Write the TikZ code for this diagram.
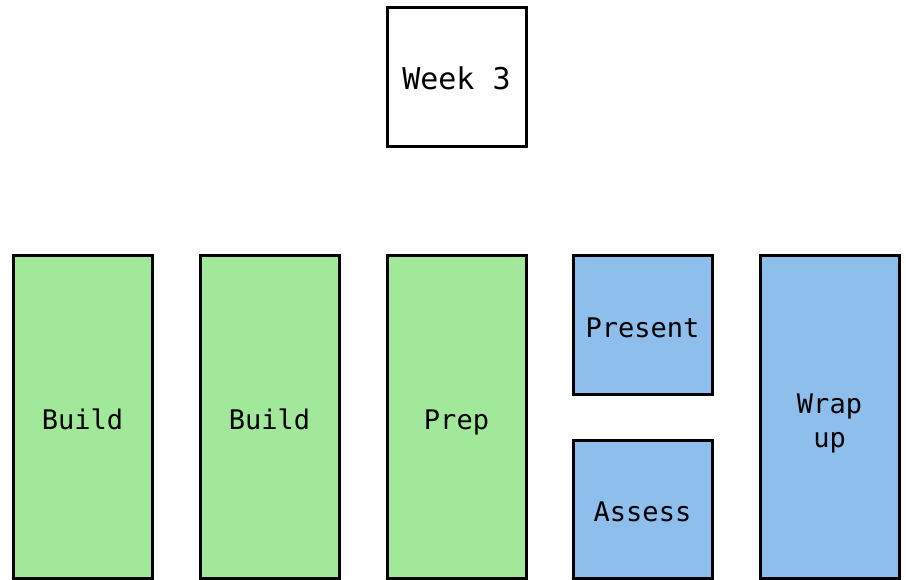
\documentclass[tikz,border=0pt]{standalone}
\usepackage{fontspec}
\setmonofont{DejaVu Sans Mono}
\definecolor{boxgreen}{RGB}{162,232,154}
\definecolor{boxblue}{RGB}{142,190,236}
\begin{document}
\begin{tikzpicture}[x=1pt,y=-1pt,
  box/.style={draw=black, line width=3pt, inner sep=0pt, minimum width=139pt,
    font=\ttfamily\fontsize{27}{34}\selectfont, align=center},
  oneline/.style={text height=27pt, text depth=2pt},
  tall/.style={box, minimum height=322pt},
  sq/.style={box, minimum height=139pt}]
\useasboundingbox (0,0) rectangle (906,580);
\node[sq, oneline, fill=white, font=\ttfamily\fontsize{30}{34}\selectfont] (week) at (456.5,77.5) {Week 3};
\node[tall, oneline, fill=boxgreen] (b1) at (82.5,417) {Build};
\node[tall, oneline, fill=boxgreen] (b2) at (269.5,417) {Build};
\node[tall, oneline, fill=boxgreen] (prep) at (456.5,417) {Prep};
\node[sq, oneline, fill=boxblue] (pres) at (642.5,325.5) {Present};
\node[box, oneline, minimum height=138pt, fill=boxblue] (assess) at (642.5,509) {Assess};
\node[tall, fill=boxblue, text height=66pt, text depth=6pt] (wrap) at (829.5,417) {Wrap\\up};
\end{tikzpicture}
\end{document}
